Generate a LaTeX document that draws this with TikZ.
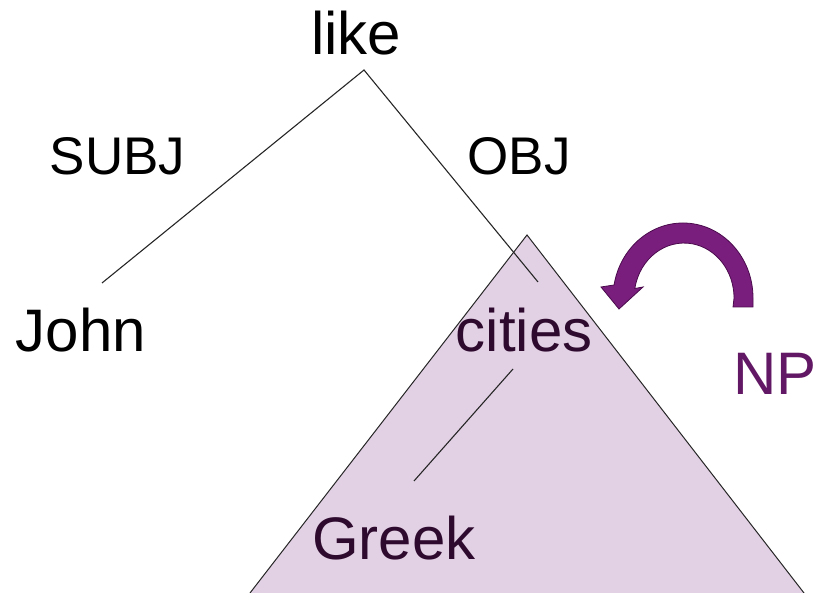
\documentclass[tikz,border=0pt]{standalone}
\usepackage{fontspec}
\setmainfont{Liberation Sans}
\definecolor{trifill}{HTML}{E2D0E4}
\definecolor{deeptext}{HTML}{2E0B2E}
\definecolor{nptext}{HTML}{621864}
\definecolor{arrowfill}{HTML}{7A1E7E}
\definecolor{arrowedge}{HTML}{4A0A4C}
\begin{document}
\begin{tikzpicture}[x=1pt,y=1pt,
  word/.style={inner sep=0pt,anchor=base west,font=\fontsize{60}{60}\selectfont},
  label/.style={inner sep=0pt,anchor=base west,font=\fontsize{53}{53}\selectfont},
  edge/.style={line width=1.1pt,draw=black!85}]
\useasboundingbox (0,0) rectangle (816,593);
% triangle
\coordinate (tA) at (527,358);
\coordinate (tL) at (250,0);
\coordinate (tR) at (804,0);
\fill[trifill] (tA) -- (tL) -- (tR) -- cycle;
\draw[line width=1pt,black!85] (tL) -- (tA) -- (tR);
% words
\node[word] (like) at (311,538) {like};
\node[label] (subj) at (49.5,418) {SUBJ};
\node[label] (obj) at (467.5,418) {OBJ};
\node[word] (john) at (15.5,241) {John};
\node[word,text=deeptext] (cities) at (455.5,241) {cities};
\node[word,text=deeptext] (greek) at (312,33) {Greek};
\node[word,text=nptext] (np) at (733,198) {NP};
% connectors
\coordinate (likeA) at (364,523);
\coordinate (johnT) at (102,310);
\coordinate (citiesT) at (538,311);
\coordinate (citiesB) at (513,224);
\coordinate (greekT) at (414,112);
\draw[edge] (johnT) -- (likeA) -- (citiesT);
\draw[edge] (citiesB) -- (greekT);
% curved arrow
\coordinate (arrS) at (753,286);
\fill[arrowfill,draw=arrowedge,line width=0.8pt]
  (arrS) -- (753,295)
  arc[start angle=0,end angle=170,x radius=70,y radius=75]
  -- (601,306) -- (619,284) -- (643,306) -- (634.8,304.5)
  arc[start angle=170,end angle=0,x radius=50,y radius=55]
  -- (733,286) -- cycle;
\end{tikzpicture}
\end{document}
